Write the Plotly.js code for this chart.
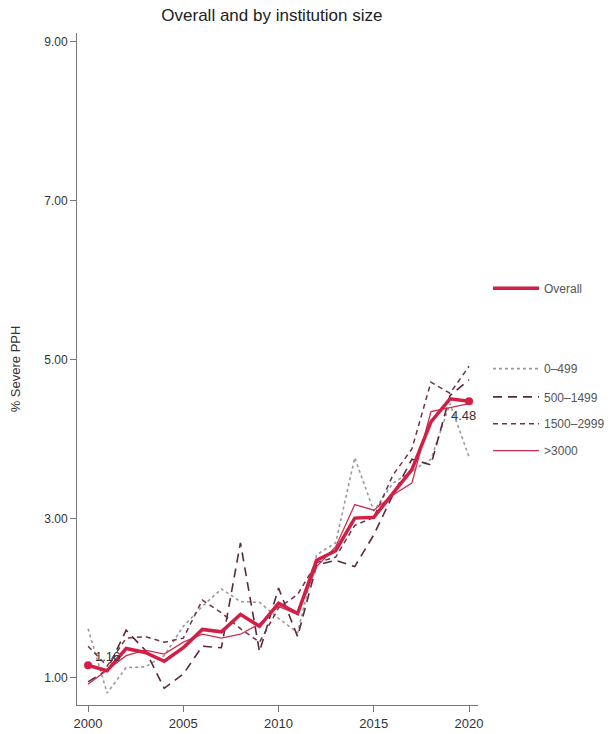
<!DOCTYPE html>
<html>
<head>
<meta charset="utf-8">
<script src="https://cdn.plot.ly/plotly-3.0.1.min.js"></script>
<style>html,body{margin:0;padding:0;background:#fff;}#chart{width:611px;height:734px;}</style>
</head>
<body>
<div id="chart"></div>
<script>
const years = [2000,2001,2002,2003,2004,2005,2006,2007,2008,2009,2010,2011,2012,2013,2014,2015,2016,2017,2018,2019,2020];
const overall   = [1.16,1.09,1.37,1.32,1.21,1.38,1.61,1.58,1.80,1.65,1.94,1.81,2.48,2.60,3.01,3.02,3.32,3.62,4.22,4.51,4.48];
const size0_499 = [1.62,0.81,1.13,1.14,1.28,1.65,1.90,2.12,1.96,1.95,1.75,1.57,2.55,2.70,3.77,3.10,3.45,3.60,3.75,4.45,3.78];
const size500_1499 = [0.95,1.10,1.60,1.35,0.87,1.05,1.40,1.38,2.70,1.33,2.13,1.52,2.42,2.48,2.40,2.80,3.30,3.75,3.68,4.55,4.75];
const size1500_2999 = [1.40,1.15,1.50,1.52,1.45,1.50,1.98,1.82,1.62,1.45,1.88,2.05,2.45,2.52,2.92,3.02,3.55,3.88,4.72,4.58,4.92];
const size3000 = [0.92,1.10,1.28,1.35,1.30,1.45,1.55,1.50,1.55,1.68,1.90,1.80,2.40,2.65,3.18,3.11,3.30,3.45,4.35,4.40,4.45];
const seriesNames = ["Overall","0\u2013499","500\u20131499","1500\u20132999",">3000"];
const yTicks = [1,3,5,7,9];
const xTicks = [2000,2005,2010,2015,2020];

const red = '#d31e45';
const traces = [
  {x: years, y: size0_499, name: seriesNames[1], mode: 'lines', legend: 'legend2',
   line: {color: '#9a9a9a', width: 1.6, dash: 'dot'}},
  {x: years, y: size500_1499, name: seriesNames[2], mode: 'lines', legend: 'legend3',
   line: {color: '#5b2a38', width: 1.6, dash: '9px,6px'}},
  {x: years, y: size1500_2999, name: seriesNames[3], mode: 'lines', legend: 'legend4',
   line: {color: '#6e3445', width: 1.5, dash: '5px,4px'}},
  {x: years, y: size3000, name: seriesNames[4], mode: 'lines', legend: 'legend5',
   line: {color: '#c9304f', width: 1.3}},
  {x: years, y: overall, name: seriesNames[0], mode: 'lines', legend: 'legend',
   line: {color: red, width: 3.5}},
  {x: [years[0], years[years.length-1]], y: [overall[0], overall[overall.length-1]],
   mode: 'markers', showlegend: false, marker: {color: red, size: 8}, hoverinfo: 'skip'}
];

const legFont = {family: 'Liberation Sans, Arial, sans-serif', size: 12, color: '#555'};
function leg(y){ return {x: 1.025, y: y, xanchor: 'left', yanchor: 'middle', font: legFont, bgcolor: 'rgba(0,0,0,0)', itemwidth: 46}; }

const layout = {
  width: 611, height: 734,
  margin: {l: 77, r: 133, t: 33, b: 29, autoexpand: false},
  paper_bgcolor: '#fff', plot_bgcolor: '#fff',
  font: {family: 'Liberation Sans, Arial, sans-serif', size: 13, color: '#333'},
  title: {text: 'Overall and by institution size', x: 0.445, xref: 'container', y: 0.979, yref: 'container',
          yanchor: 'middle', font: {size: 17, color: '#222'}},
  xaxis: {range: [1999.42, 2020.47], tickvals: xTicks, ticktext: xTicks.map(String),
          showgrid: false, zeroline: false, showline: true, linecolor: '#777', linewidth: 1,
          ticks: 'outside', ticklen: 6, tickcolor: '#777', tickfont: {size: 13, color: '#333'}},
  yaxis: {range: [0.66, 9.11], tickvals: yTicks, ticktext: yTicks.map(v => v.toFixed(2)),
          showgrid: false, zeroline: false, showline: true, linecolor: '#777', linewidth: 1,
          ticks: 'outside', ticklen: 6, tickcolor: '#777', tickfont: {size: 12, color: '#333'},
          title: {text: '% Severe PPH', font: {size: 13, color: '#333'}, standoff: 20}},
  legend: leg(0.62),
  legend2: leg(0.5005),
  legend3: leg(0.4585),
  legend4: leg(0.4185),
  legend5: leg(0.3785),
  annotations: [
    {x: years[0], y: overall[0], text: overall[0].toFixed(2), showarrow: false, xref: 'x', yref: 'y',
     xshift: 19, yshift: 9, font: {size: 13, color: '#333'}},
    {x: years[years.length-1], y: overall[overall.length-1], text: overall[overall.length-1].toFixed(2),
     showarrow: false, xref: 'x', yref: 'y', xshift: -6, yshift: -14, font: {size: 13, color: '#333'}}
  ]
};

Plotly.newPlot('chart', traces, layout, {displayModeBar: false, staticPlot: true});
</script>
</body>
</html>
